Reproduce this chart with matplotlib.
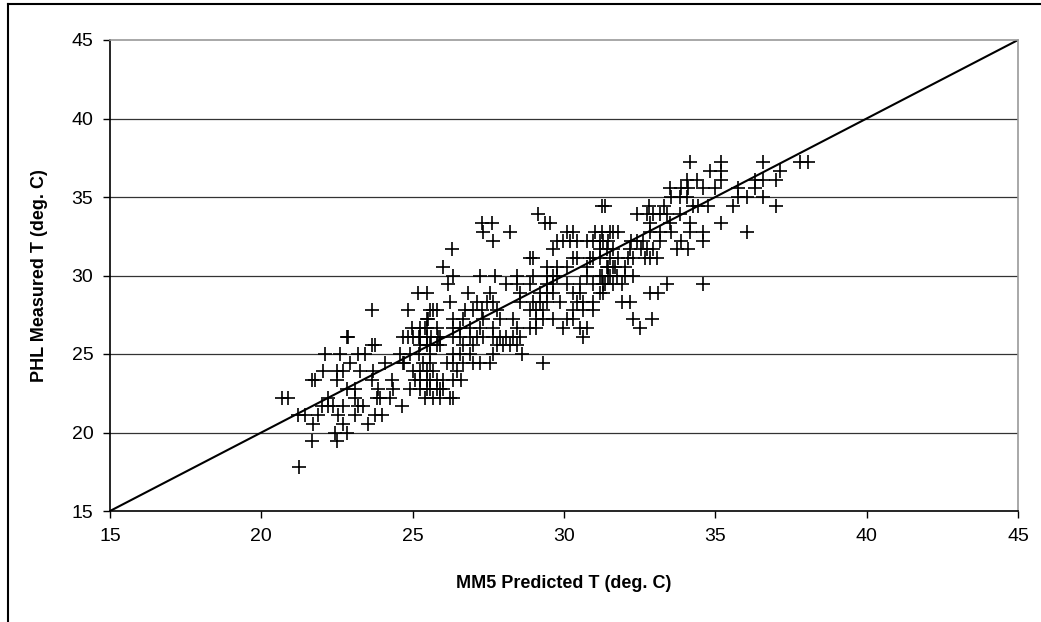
import matplotlib
matplotlib.use("Agg")
import matplotlib.pyplot as plt
from matplotlib.lines import Line2D

# measured temperature rows (deg C) and the MM5 predicted values found on each row
phl_levels = [17.78, 19.44, 20.00, 20.56, 21.11, 21.67, 22.22, 22.78, 23.33, 23.89,
              24.44, 25.00, 25.56, 26.11, 26.67, 27.22, 27.78, 28.33, 28.89, 29.44,
              30.00, 30.56, 31.11, 31.67, 32.22, 32.78, 33.33, 33.89, 34.44, 35.00,
              35.56, 36.11, 36.67, 37.22]

mm5_on_level = [
    [21.25],
    [21.66, 22.49],
    [22.43, 22.82],
    [21.72, 22.71, 23.53],
    [21.22, 21.44, 21.88, 22.54, 23.09, 23.75, 23.98],
    [21.99, 22.21, 22.38, 22.71, 23.20, 23.37, 24.64],
    [20.67, 20.89, 22.21, 23.09, 23.81, 23.92, 24.25, 25.41, 25.67, 25.90, 26.23, 26.34],
    [22.82, 23.09, 23.86, 24.35, 24.91, 25.24, 25.46, 25.57, 25.79, 25.90, 26.00],
    [21.66, 21.77, 22.49, 23.65, 24.31, 25.08, 25.24, 25.46, 25.57, 25.79, 26.01, 26.34, 26.60],
    [22.05, 22.49, 22.71, 23.26, 23.70, 25.00, 25.24, 25.46, 25.67, 26.45],
    [22.93, 24.08, 24.68, 24.70, 25.34, 25.57, 26.12, 26.34, 26.67, 27.00, 27.22, 27.55, 29.31],
    [22.10, 22.60, 23.20, 23.42, 24.58, 24.91, 25.20, 25.57, 26.34, 26.56, 26.89, 27.66, 28.60],
    [23.65, 23.75, 25.24, 25.46, 25.57, 25.79, 25.90, 26.67, 27.00, 27.78, 27.99, 28.21, 28.44],
    [22.82, 22.87, 24.68, 24.85, 25.00, 25.20, 25.24, 25.46, 25.60, 25.84, 25.90, 26.34, 26.56,
     26.89, 27.11, 27.33, 27.66, 27.88, 28.10, 28.32, 28.54, 30.64],
    [24.97, 25.24, 25.41, 25.46, 25.79, 26.34, 26.56, 26.89, 27.22, 27.66, 28.44, 28.88, 29.09,
     29.98, 30.53, 30.75, 32.50],
    [25.46, 25.51, 26.34, 26.67, 27.33, 27.88, 28.32, 29.09, 29.31, 29.65, 30.09, 30.31, 32.28, 32.90],
    [23.65, 24.85, 25.57, 25.67, 25.79, 26.73, 27.00, 27.28, 27.78, 28.88, 29.09, 29.31, 30.31,
     30.64, 30.97],
    [26.23, 27.11, 27.45, 27.66, 28.54, 28.98, 29.21, 29.43, 29.87, 30.42, 30.64, 30.97, 31.90, 32.18],
    [25.19, 25.46, 26.84, 27.55, 28.54, 29.21, 29.43, 29.65, 30.31, 30.53, 31.19, 31.30, 32.84, 33.11],
    [26.17, 28.10, 28.44, 28.88, 29.43, 29.65, 30.09, 30.53, 30.97, 31.30, 31.35, 31.63, 31.90,
     33.39, 34.60],
    [26.34, 27.22, 27.72, 28.44, 28.98, 29.43, 29.65, 29.76, 30.75, 31.19, 31.24, 31.46, 31.52,
     31.74, 32.01, 32.28],
    [26.01, 29.43, 29.76, 30.09, 30.75, 31.41, 31.45, 31.63, 31.68, 32.01],
    [28.88, 28.98, 30.31, 30.42, 30.86, 30.97, 31.19, 31.52, 31.79, 32.11, 32.28, 32.67, 32.84, 33.06],
    [26.29, 29.65, 31.19, 31.41, 31.63, 32.18, 32.56, 32.73, 32.95, 33.72, 34.10],
    [27.66, 29.76, 29.98, 30.20, 30.42, 30.75, 30.97, 31.19, 31.30, 31.46, 32.23, 32.40, 32.62,
     33.17, 33.88, 34.60],
    [27.33, 28.21, 30.09, 30.31, 31.02, 31.24, 31.52, 31.63, 31.79, 32.84, 33.17, 33.55, 34.16,
     34.60, 36.03],
    [27.28, 27.61, 29.37, 29.54, 32.84, 33.50, 34.16, 35.20],
    [29.15, 32.40, 32.73, 32.95, 33.17, 33.39, 33.83],
    [31.24, 31.35, 32.80, 33.30, 34.26, 34.42, 34.75, 35.60, 37.02],
    [33.55, 33.83, 34.05, 35.74, 36.03, 36.57],
    [33.50, 33.88, 34.10, 34.60, 34.98, 35.74, 36.31],
    [34.05, 34.38, 35.20, 36.31, 36.57, 37.02],
    [34.82, 35.20, 37.13],
    [34.16, 35.20, 36.57, 37.79, 38.06],
]

ticks = [15, 20, 25, 30, 35, 40, 45]

mm5 = []
phl = []
for lev, xs in zip(phl_levels, mm5_on_level):
    for x in xs:
        mm5.append(x)
        phl.append(lev)

plt.rcParams['font.family'] = ['Liberation Sans', 'DejaVu Sans']

fig = plt.figure(figsize=(10.41, 6.22), dpi=100)
ax = fig.add_axes([110 / 1041, 1 - 511 / 622, 908 / 1041, 471 / 622])

for t in ticks[1:-1]:
    ax.axhline(t, color='#333333', lw=0.9, zorder=1)

ax.plot([15, 45], [15, 45], color='black', lw=1.5, zorder=2)
ax.plot(mm5, phl, '+', color='black', markersize=9.5, mew=1.2, zorder=3)

ax.set_xlim(15, 45)
ax.set_ylim(15, 45)
ax.set_xticks(ticks)
ax.set_yticks(ticks)
ax.tick_params(direction='out', length=5, width=1, labelsize=14, pad=7)

for side in ['top', 'right']:
    ax.spines[side].set_color('#999999')
    ax.spines[side].set_linewidth(1.2)
for side in ['left', 'bottom']:
    ax.spines[side].set_color('black')
    ax.spines[side].set_linewidth(1.2)

ax.set_xlabel("MM5 Predicted T (deg. C)", fontsize=13, fontweight='bold', labelpad=22)
ax.set_ylabel("PHL Measured T (deg. C)", fontsize=13, fontweight='bold', labelpad=17)

# outer chart border (right and bottom fall outside the image)
fig.add_artist(Line2D([8 / 1041, 8 / 1041], [0, 1 - 4 / 622], color='black', lw=1.5))
fig.add_artist(Line2D([8 / 1041, 1], [1 - 4 / 622, 1 - 4 / 622], color='black', lw=1.5))

fig.savefig("out.png", dpi=100)
